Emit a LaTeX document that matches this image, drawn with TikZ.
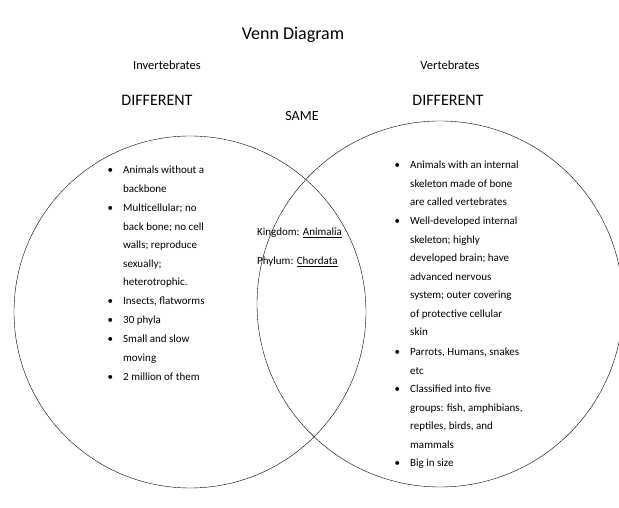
\documentclass[tikz,border=0pt]{standalone}
\usepackage{fontspec}
\setmainfont{Carlito}
\usetikzlibrary{positioning}
\newcommand{\bul}{\llap{\textbullet\hspace{10pt}}}
\begin{document}
\begin{tikzpicture}[x=1pt, y=1pt,
    font=\fontsize{11}{18.5}\selectfont,
    title/.style={font=\fontsize{18}{20}\selectfont},
    head/.style={font=\fontsize{14}{16}\selectfont},
    big/.style={font=\fontsize{16}{18}\selectfont},
    item/.style={anchor=north west, inner sep=0pt, align=left}
]
    \useasboundingbox (0,0) rectangle (619,508);

    % --- circles ---
    \draw[thin] (190,196) circle[radius=176];
    \draw[thin] (440,204) circle[radius=183];

    % --- headings ---
    \node[title] (ttl) at (293,473) {Venn Diagram};
    \node (inv) at (167,443) {\fontsize{12.5}{14}\selectfont Invertebrates};
    \node (vert) at (450,443) {\fontsize{12.5}{14}\selectfont Vertebrates};
    \node[big] (difl) at (157,408) {DIFFERENT};
    \node[head] (same) at (302,392) {SAME};
    \node[big] (difr) at (448,408) {DIFFERENT};

    % --- left list ---
    \node[item] (l1) at (123,342) {\bul Animals without a\\backbone};
    \node[item] (l2) at (123,304) {\bul Multicellular; no\\back bone; no cell\\walls; reproduce\\sexually;\\heterotrophic.};
    \node[item] (l3) at (123,211) {\bul Insects, flatworms};
    \node[item] (l4) at (123,192) {\bul 30 phyla};
    \node[item] (l5) at (123,173) {\bul Small and slow\\moving};
    \node[item] (l6) at (123,135) {\bul 2 million of them};

    % --- middle ---
    \node[item, anchor=base west] (king) at (257,272) {Kingdom: \underline{Animalia}};
    \node[item, anchor=base west] (phyl) at (257,243) {Phylum: \underline{Chordata}};

    % --- right list ---
    \node[item] (r1) at (410,347) {\bul Animals with an internal\\skeleton made of bone\\are called vertebrates};
    \node[item] (r2) at (410,291) {\bul Well-developed internal\\skeleton; highly\\developed brain; have\\advanced nervous\\system; outer covering\\of protective cellular\\skin};
    \node[item] (r3) at (410,160) {\bul Parrots, Humans, snakes\\etc};
    \node[item] (r4) at (410,123) {\bul Classified into five\\groups: fish, amphibians,\\reptiles, birds, and\\mammals};
    \node[item] (r5) at (410,49) {\bul Big in size};
\end{tikzpicture}
\end{document}
